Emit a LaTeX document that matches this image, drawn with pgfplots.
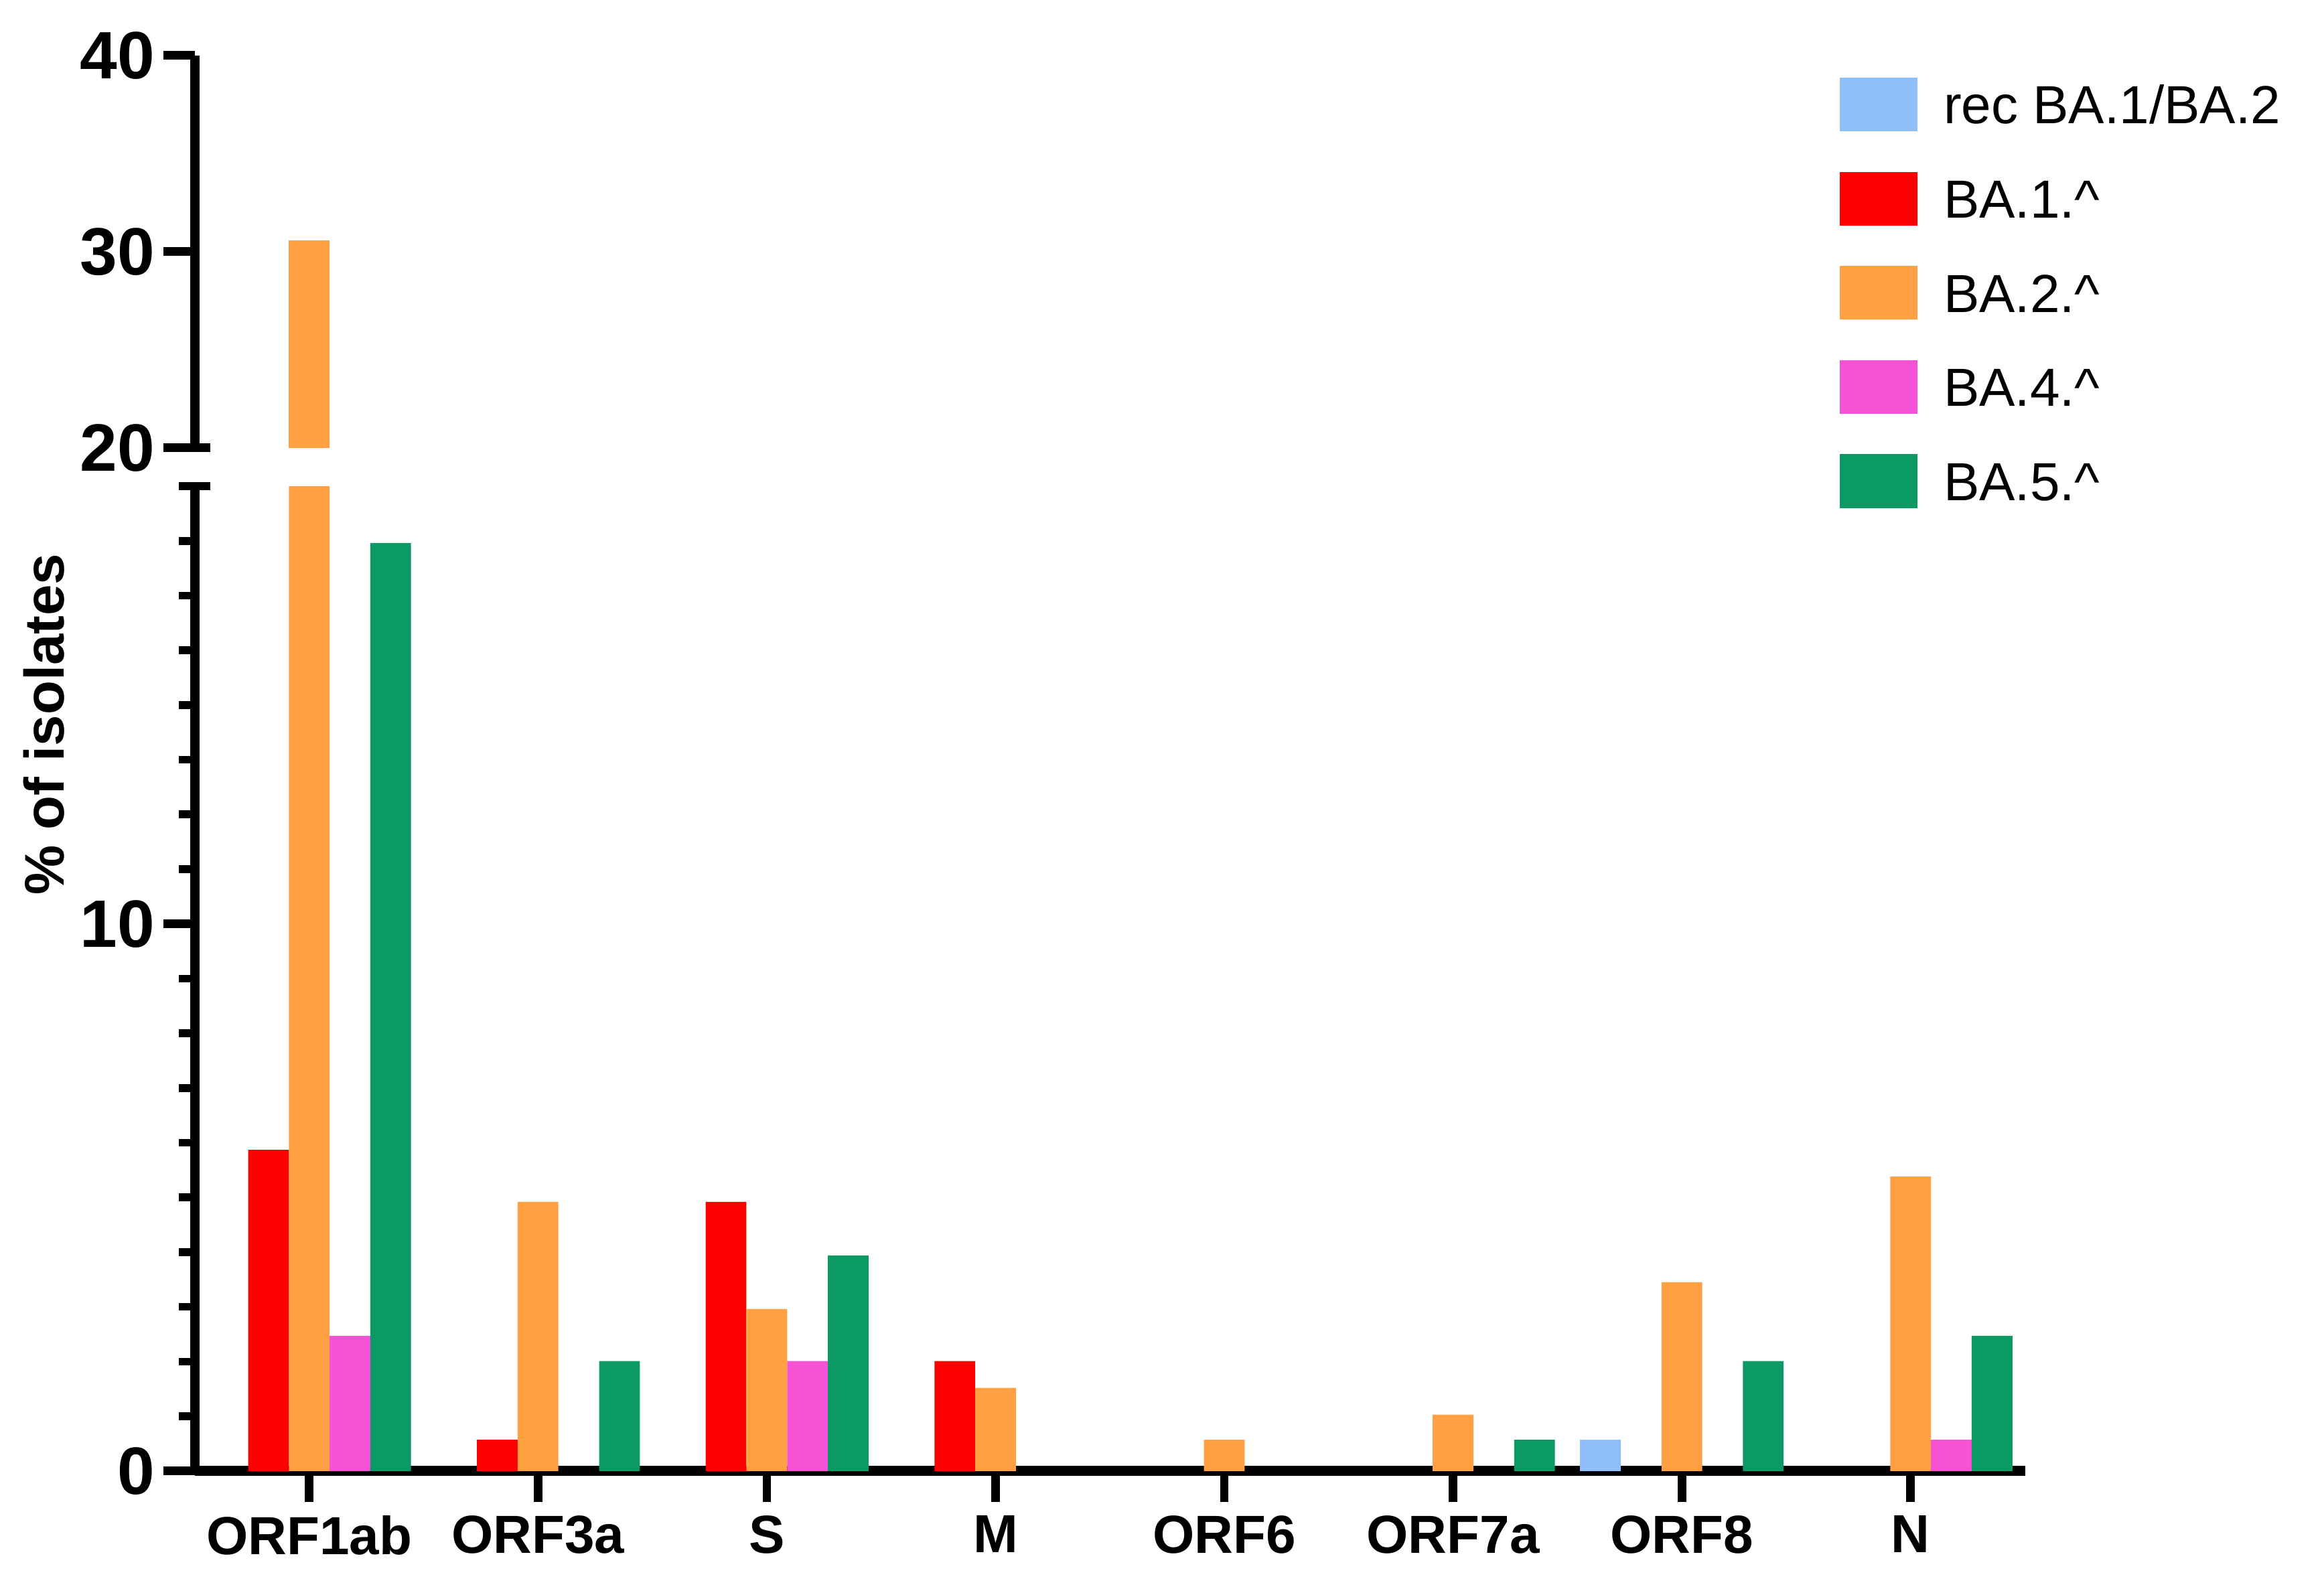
\documentclass[border=0pt]{standalone}
\usepackage{fontspec}
\setmainfont{Liberation Sans}
\usepackage{pgfplots}
\pgfplotsset{compat=1.18}
\definecolor{cRec}{HTML}{8FBFF8}
\definecolor{cBAa}{HTML}{FF0000}
\definecolor{cBAb}{HTML}{FFA142}
\definecolor{cBAd}{HTML}{F652D6}
\definecolor{cBAe}{HTML}{0B9A63}
\pgfplotsset{
  lgimg/.style={legend image code/.code={\fill[##1] (0pt,-6pt) rectangle (17.4pt,6pt);}},
  common/.style={
    scale only axis, width=409.5pt,
    xmin=-0.5, xmax=7.5,
    axis line style={line width=2.2pt},
    tick style={line width=1.9pt, black},
    every minor tick/.append style={line width=1.75pt},
    tick align=outside,
    major tick length=7pt, minor tick length=3.6pt,
    /pgf/number format/assume math mode=true,
    yticklabel style={font=\fontsize{15}{18}\selectfont\bfseries, inner sep=1.8pt},
    ybar, bar width=0.178,
  }
}
\begin{document}
\begin{tikzpicture}
\path[use as bounding box] (0,0) rectangle (520pt,355.6pt);
% lower segment
\begin{axis}[common, name=lower,
  at={(43.6pt,26.4pt)}, anchor=south west,
  height=220.4pt,
  ymin=0, ymax=18,
  axis x line*=bottom, axis y line*=left,
  xtick={0,...,7},
  xticklabels={ORF1ab,ORF3a,S,M,ORF6,ORF7a,ORF8,N},
  xticklabel style={font=\fontsize{12}{14}\selectfont\bfseries, inner sep=2.8pt},
  ytick={0,10},
  minor ytick={1,2,3,4,5,6,7,8,9,11,12,13,14,15,16,17,18},
  legend cell align=left,
  legend style={draw=none, fill=none, inner sep=0pt,
    at={(axis description cs:0.8984,1.4156)}, anchor=north west,
    font=\fontsize{12}{14}\selectfont,
    nodes={inner sep=0pt, text height=10.3pt, text depth=1.7pt},
    row sep=9.07pt, column sep=5.8pt},
]
\addplot[fill=cRec, draw=none, bar shift=-0.356, lgimg] coordinates {(6,0.57)};
\addlegendentry{rec BA.1/BA.2}
\addplot[fill=cBAa, draw=none, bar shift=-0.178, lgimg] coordinates {(0,5.87) (1,0.57) (2,4.92) (3,2.01)};
\addlegendentry{BA.1.\^{}}
\addplot[fill=cBAb, draw=none, bar shift=0, lgimg] coordinates {(0,30.57) (1,4.92) (2,2.96) (3,1.52) (4,0.57) (5,1.03) (6,3.45) (7,5.38)};
\addlegendentry{BA.2.\^{}}
\addplot[fill=cBAd, draw=none, bar shift=0.178, lgimg] coordinates {(0,2.47) (2,2.01) (7,0.57)};
\addlegendentry{BA.4.\^{}}
\addplot[fill=cBAe, draw=none, bar shift=0.356, lgimg] coordinates {(0,16.96) (1,2.01) (2,3.94) (5,0.57) (6,2.01) (7,2.47)};
\addlegendentry{BA.5.\^{}}
\end{axis}
% upper segment
\begin{axis}[common, name=upper,
  at={(43.6pt,255.4pt)}, anchor=south west,
  height=87.8pt,
  ymin=20, ymax=40,
  axis x line=none, axis y line*=left,
  xtick=\empty,
  ytick={20,30,40},
]
\addplot[fill=cBAb, draw=none, bar shift=0] coordinates {(0,30.57)};
\end{axis}
% axis-break marks
\draw[line width=1.75pt] ([xshift=-3.6pt]lower.north west) -- ([xshift=3.4pt]lower.north west);
\draw[line width=1.9pt] ([xshift=-7pt]upper.south west) -- ([xshift=3.4pt]upper.south west);
\node[rotate=90, font=\fontsize{12.5}{15}\selectfont\bfseries] at (9.9pt,193.5pt) {\% of isolates};
\end{tikzpicture}
\end{document}
